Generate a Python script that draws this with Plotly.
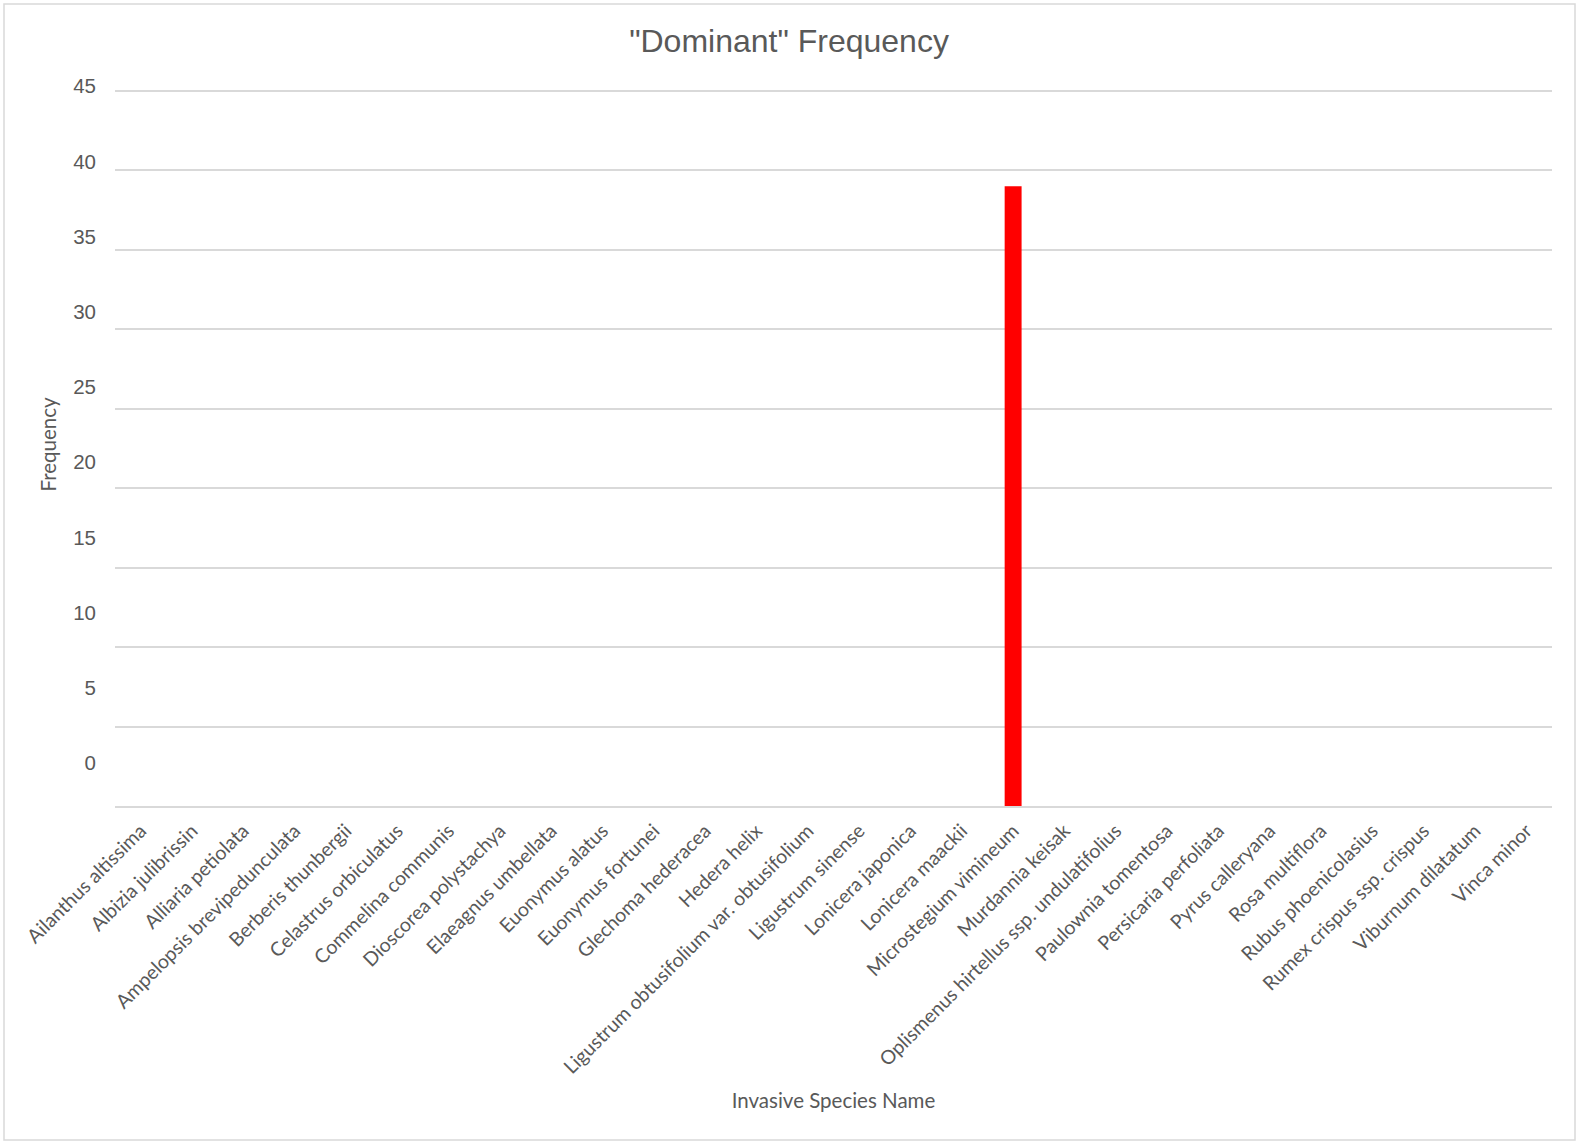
import plotly.graph_objects as go

# Invasive species and how often each was recorded as "dominant"
species = [
    "Ailanthus altissima", "Albizia julibrissin", "Alliaria petiolata",
    "Ampelopsis brevipedunculata", "Berberis thunbergii", "Celastrus orbiculatus",
    "Commelina communis", "Dioscorea polystachya", "Elaeagnus umbellata",
    "Euonymus alatus", "Euonymus fortunei", "Glechoma hederacea", "Hedera helix",
    "Ligustrum obtusifolium var. obtusifolium", "Ligustrum sinense",
    "Lonicera japonica", "Lonicera maackii", "Microstegium vimineum",
    "Murdannia keisak", "Oplismenus hirtellus ssp. undulatifolius",
    "Paulownia tomentosa", "Persicaria perfoliata", "Pyrus calleryana",
    "Rosa multiflora", "Rubus phoenicolasius", "Rumex crispus ssp. crispus",
    "Viburnum dilatatum", "Vinca minor",
]
frequency = [0, 0, 0, 0, 0, 0, 0, 0, 0, 0, 0, 0, 0, 0, 0, 0, 0, 39,
             0, 0, 0, 0, 0, 0, 0, 0, 0, 0]

# Gridlines every 5 units; the printed labels sit a little above each line
grid_vals = [0, 5, 10, 15, 20, 25, 30, 35, 40, 45]
label_text = ["0", "5", "10", "15", "20", "25", "30", "35", "40", "45"]
label_pos = [2.70 + 4.733 * i for i in range(len(label_text))]

W, H = 1578, 1143
ML, MR, MT, MB = 115, 26, 83, 337
Y_TOP = 45.5
GRID = "#d9d9d9"
TEXT = "#595959"

fig = go.Figure(
    go.Bar(
        x=species,
        y=frequency,
        marker=dict(color="#ff0000", line=dict(width=0)),
    )
)

# light frame around the whole chart area
pw, ph = W - ML - MR, H - MT - MB
x0 = (4 - ML) / pw
x1 = (W - 3 - ML) / pw
y0 = 1 - (H - 3 - MT) / ph
y1 = 1 - (4 - MT) / ph
fig.add_shape(type="rect", xref="paper", yref="paper",
              x0=x0, x1=x1, y0=y0, y1=y1,
              line=dict(color=GRID, width=1.5), fillcolor="rgba(0,0,0,0)",
              layer="below")

fig.update_layout(
    width=W, height=H,
    margin=dict(l=ML, r=MR, t=MT, b=MB, autoexpand=False),
    paper_bgcolor="white", plot_bgcolor="white",
    bargap=0.67,
    showlegend=False,
    title=dict(
        text='"Dominant" Frequency',
        font=dict(family="Liberation Sans, Arial, sans-serif", size=32, color=TEXT),
        x=0.5, xref="container", xanchor="center",
        y=1 - 41 / H, yref="container", yanchor="middle",
    ),
    xaxis=dict(
        type="category",
        tickangle=-45,
        tickfont=dict(family="Lato, sans-serif", size=19.5, color=TEXT),
        showgrid=False,
        showline=True, linecolor=GRID, linewidth=1.5,
        ticks="",
        ticklabelstandoff=4,
        automargin=False,
        title=dict(text="Invasive Species Name",
                   font=dict(family="Lato, sans-serif", size=20.5, color=TEXT),
                   standoff=17),
    ),
    yaxis=dict(
        range=[0, Y_TOP],
        tickmode="array",
        tickvals=label_pos,
        ticktext=label_text,
        tickfont=dict(family="Liberation Sans, Arial, sans-serif", size=20.5, color=TEXT),
        showgrid=False,
        zeroline=False,
        ticks="",
        ticklabelstandoff=18,
        automargin=False,
        minor=dict(tickmode="array", tickvals=grid_vals, showgrid=True,
                   gridcolor=GRID, gridwidth=1.5, ticks=""),
        title=dict(text="Frequency",
                   font=dict(family="Lato, sans-serif", size=20.5, color=TEXT),
                   standoff=11),
    ),
)

fig.write_html("out.html")
